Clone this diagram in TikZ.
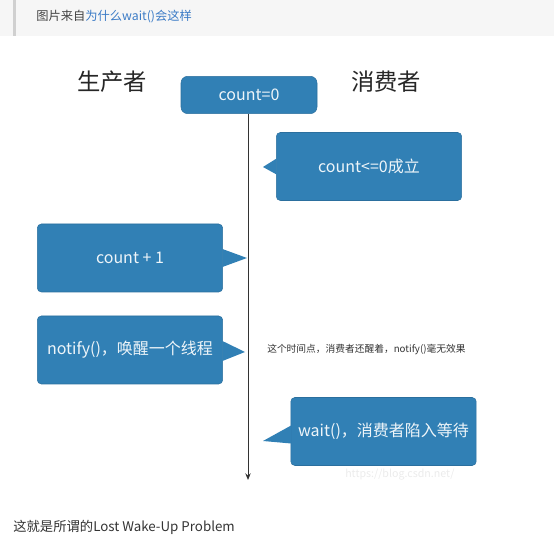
\documentclass[tikz,border=0pt]{standalone}
\usepackage{fontspec}
\setmainfont{Noto Sans CJK SC}
\usepackage{tikz}
\usetikzlibrary{arrows.meta, positioning, calc}
\definecolor{bubblue}{HTML}{3180B5}
\definecolor{bubedge}{HTML}{2B6F9E}
\definecolor{quotebg}{HTML}{F6F6F6}
\definecolor{quotebar}{HTML}{D0D0D0}
\definecolor{linkblue}{HTML}{3B7BC6}
\definecolor{txtgray}{HTML}{444444}

\begin{document}
\begin{tikzpicture}[
  x=0.75pt, y=-0.75pt,
  bubble/.style={rectangle, rounded corners=3pt, draw=bubedge, fill=bubblue,
                 text=white!92!bubblue, font=\fontsize{12}{14}\selectfont,
                 minimum width=139pt, minimum height=51pt, inner sep=0pt},
  ptr/.style={fill=bubblue},
  role/.style={font=\fontsize{17.5}{20}\selectfont, text=black!85},
  timeline/.style={-{Stealth[length=5pt,width=4pt]}, black!80, line width=0.7pt}
]
\useasboundingbox (0,0) rectangle (554,548);

% === Quote header ===
\fill[quotebg] (0,0) rectangle (554,36);
\fill[quotebar] (13,0) rectangle (16,36);
\node[anchor=west, inner sep=0pt, font=\fontsize{9.2}{11}\selectfont] (src)
  at (36,17) {\textcolor{txtgray}{图片来自}\textcolor{linkblue}{为什么wait()会这样}};

% === Roles and start state ===
\node[role] (prod) at (112,82) {生产者};
\node[role] (cons) at (386,82) {消费者};
\node[bubble, minimum width=102pt, minimum height=28pt, rounded corners=5pt]
  (start) at (249,95) {count=0};

% === Time axis ===
\coordinate (tend) at (248,480);
\draw[timeline] (start.south -| tend) -- (tend);

% === Consumer: check ===
\node[bubble] (check) at (369,166.5) {count<=0成立};
\coordinate (checktip) at (263,167);
\fill[ptr] ($(check.west)+(0.5,-8)$) -- (checktip) -- ($(check.west)+(0.5,8)$) -- cycle;

% === Producer: increment ===
\node[bubble] (incr) at (130,258) {count + 1};
\coordinate (incrtip) at (247,258);
\fill[ptr] ($(incr.east)+(-0.5,-9)$) -- (incrtip) -- ($(incr.east)+(-0.5,9)$) -- cycle;

% === Producer: notify ===
\node[bubble] (notify) at (130,350) {notify()，唤醒一个线程};
\coordinate (notifytip) at (245,352);
\fill[ptr] ($(notify.east)+(-0.5,-9)$) -- (notifytip) -- ($(notify.east)+(-0.5,11)$) -- cycle;

\node[anchor=west, inner sep=0pt, font=\fontsize{7.3}{9}\selectfont, text=black!80]
  (note) at (267,350) {这个时间点，消费者还醒着，notify()毫无效果};

% === Consumer: wait ===
\node[bubble] (wait) at (383.5,431.5) {wait()，消费者陷入等待};
\coordinate (waittip) at (263,441);
\fill[ptr] ($(wait.west)+(0.5,-6)$) -- (waittip) -- ($(wait.west)+(0.5,12)$) -- cycle;

\node[anchor=west, inner sep=0pt, font=\fontsize{8}{9}\selectfont, text=black!8]
  (mark) at (345,475) {https://blog.csdn.net/};

% === Closing remark ===
\node[anchor=west, inner sep=0pt, font=\fontsize{10}{12}\selectfont, text=black!80]
  (remark) at (13,527) {这就是所谓的Lost Wake-Up Problem};

\end{tikzpicture}
\end{document}
